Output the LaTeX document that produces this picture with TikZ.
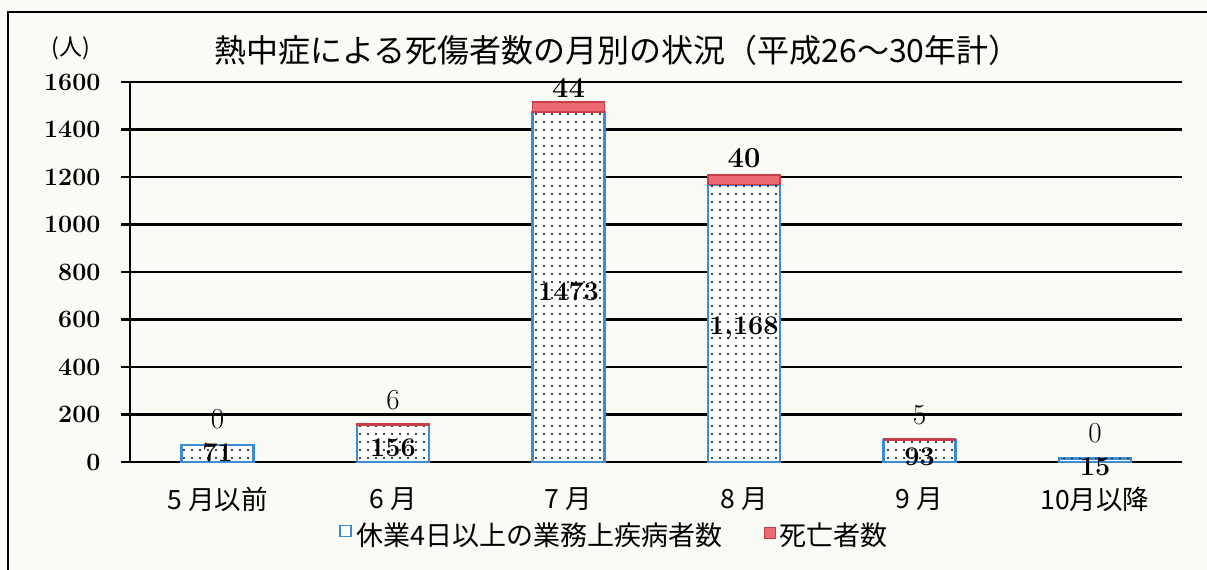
\documentclass[tikz,border=0pt]{standalone}
\usepackage{fontspec}
\newfontfamily\jp{Noto Sans CJK JP}
\usetikzlibrary{patterns.meta}
\definecolor{paper}{RGB}{251,251,245}
\definecolor{barblue}{RGB}{60,140,210}
\definecolor{barred}{RGB}{236,104,114}
\definecolor{edgered}{RGB}{200,62,74}
\begin{document}
\begin{tikzpicture}
	[x=1pt,y=-1pt,
	grid/.style={line width=2.4pt},
	sick/.style={draw=barblue,line width=2.2pt,fill=white,
		postaction={pattern={Dots[distance=8pt,radius=1.1pt]},pattern color=black}},
	dead/.style={draw=edgered,line width=1.6pt,fill=barred},
	tick/.style={anchor=east,font=\fontsize{25}{25}\selectfont\bfseries},
	num/.style={font=\fontsize{29}{29}\selectfont},
	inner/.style={font=\fontsize{27}{27}\selectfont\bfseries},
	month/.style={font=\jp\fontsize{26.5}{26.5}\selectfont},
	key/.style={minimum size=11pt,inner sep=0pt,line width=1.8pt},
	keytext/.style={anchor=west,font=\jp\fontsize{27}{27}\selectfont}]
	\fill[paper] (0,0) rectangle (1207,570);
	\useasboundingbox (0,0) rectangle (1207,570);
	\draw[line width=2.6pt] (1207,12) -- (8,12) -- (8,570);
	\node[anchor=west,font=\jp\fontsize{23}{23}\selectfont] (unit) at (48,48) {(人)};
	\node[anchor=west,font=\jp\fontsize{32}{32}\selectfont] (title) at (211,50) {熱中症による死傷者数の月別の状況（平成26～30年計）};
	\foreach \v [count=\k from 0] in {0,200,...,1600}{
		\draw[grid] (121,{462-0.2375*\v}) -- (1182,{462-0.2375*\v});
		\node[tick] (tick\k) at (104,{462-0.2375*\v}) {\v};
	}
	\draw[line width=2pt] (130,462) -- (130,83);
	\foreach \c/\d/\cy/\dy/\cl/\dl/\ml [count=\i from 0] in
		{71/0/453/419/71/0/5 月以前,
		156/6/448/400/156/6/6 月,
		1473/44/292/88/1473/{\bfseries 44}/7 月,
		1168/40/328/158/{1,168}/{\bfseries 40}/8 月,
		93/5/457/415/93/5/9 月,
		15/0/467/433/15/0/10月以降}{
		\pgfmathsetmacro{\bx}{217.5+175.5*\i}
		\draw[sick] ({\bx-36},462) rectangle ({\bx+36},{462-0.2375*\c});
		\ifnum\d>0
			\draw[dead] ({\bx-36},{462-0.2375*\c}) rectangle ({\bx+36},{462-0.2375*(\c+\d)});
		\fi
		\node[inner] (sick\i) at (\bx,\cy) {\cl};
		\node[num] (dead\i) at (\bx,\dy) {\dl};
		\node[month] (month\i) at (\bx,499) {\ml};
	}
	\node[key,draw=barblue,fill=white] (keysick) at (345.5,531) {};
	\node[keytext] (textsick) at (353,535) {休業4日以上の業務上疾病者数};
	\node[key,draw=edgered,fill=barred] (keydead) at (770,533) {};
	\node[keytext] (textdead) at (776,535) {死亡者数};
\end{tikzpicture}
\end{document}
